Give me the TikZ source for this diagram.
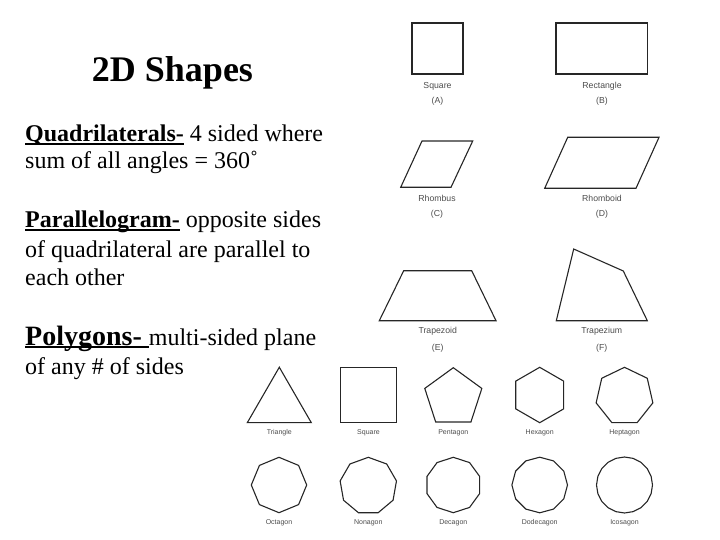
\documentclass[tikz,border=0pt]{standalone}
\usepackage{fontspec}
\setmainfont{Liberation Serif}
\newfontfamily\labelfont{Liberation Sans}
\usetikzlibrary{shapes.geometric}
\newsavebox\ulbox
\newcommand{\termul}[1]{\sbox\ulbox{#1}\rlap{\rule[-2.6pt]{\wd\ulbox}{1.4pt}}\usebox\ulbox}

\begin{document}
\begin{tikzpicture}[x=1pt,y=-1pt,
	body_text/.style={anchor=base west,inner sep=0pt,font=\fontsize{24}{24}\selectfont},
	shape_line/.style={draw=black!85,line width=1.1pt,line join=miter},
	poly_node/.style={regular polygon,draw=black!85,line width=1.1pt,inner sep=0pt},
	big_label/.style={anchor=base,inner sep=0pt,text=black!70,font=\labelfont\fontsize{8.7}{9}\selectfont},
	small_label/.style={anchor=base,inner sep=0pt,text=black!70,font=\labelfont\fontsize{7}{8}\selectfont}]

		\useasboundingbox (0,0) rectangle (720,540);

		% left column text
		\node[anchor=base,inner sep=0pt,font=\bfseries\fontsize{36}{36}\selectfont] (title) at (172.5,82) {2D Shapes};
		\node[body_text] (quad1) at (25,142) {\termul{\textbf{Quadrilaterals-}} 4 sided where};
		\node[body_text] (quad2) at (25,169) {sum of all angles = 360˚};
		\node[body_text] (para1) at (25,228) {\termul{\textbf{Parallelogram-}} opposite sides};
		\node[body_text] (para2) at (25,257) {of quadrilateral are parallel to};
		\node[body_text] (para3) at (25,285) {each other};
		\node[body_text] (poly1) at (25,345) {\termul{\bfseries\fontsize{28}{28}\selectfont Polygons- }multi-sided plane};
		\node[body_text] (poly2) at (25,374) {of any \# of sides};

		% quadrilaterals
		\draw[shape_line] (412,23) rectangle (463,74);
		\node[big_label] (sq) at (437.5,89) {Square};
		\node[big_label] (sqA) at (437.5,103.5) {(A)};

		\draw[shape_line] (556,23) rectangle (647.5,74);
		\node[big_label] (rect) at (602,89) {Rectangle};
		\node[big_label] (rectB) at (602,103.5) {(B)};

		\draw[shape_line] (422,141) -- (472.7,141) -- (451,187.3) -- (400.7,187.3) -- cycle;
		\node[big_label] (rhombus) at (437,201.3) {Rhombus};
		\node[big_label] (rhombusC) at (437,216.7) {(C)};

		\draw[shape_line] (567.7,137.3) -- (659,137.3) -- (636,188.3) -- (544.7,188.3) -- cycle;
		\node[big_label] (rhomboid) at (602,201.3) {Rhomboid};
		\node[big_label] (rhomboidD) at (602,216.7) {(D)};

		\draw[shape_line] (379.3,320.7) -- (403.7,270.7) -- (471.7,270.7) -- (496,320.7) -- cycle;
		\node[big_label] (trapezoid) at (437.7,333.3) {Trapezoid};
		\node[big_label] (trapezoidE) at (437.7,350) {(E)};

		\draw[shape_line] (556.3,320.7) -- (573.7,249) -- (623.3,271) -- (647.3,320.7) -- cycle;
		\node[big_label] (trapezium) at (601.7,333.3) {Trapezium};
		\node[big_label] (trapeziumF) at (601.7,350) {(F)};

		% regular polygons
		\node[poly_node,regular polygon sides=3,minimum size=73.9pt] (tri) at (279.3,404.2) {};
		\node[small_label] (tri_l) at (279.3,434) {Triangle};
		\node[poly_node,regular polygon sides=4,minimum size=78.6pt] (quad) at (368.5,395) {};
		\node[small_label] (quad_l) at (368.5,434) {Square};
		\node[poly_node,regular polygon sides=5,minimum size=60pt] (penta) at (453.3,397.7) {};
		\node[small_label] (penta_l) at (453.3,434) {Pentagon};
		\node[poly_node,regular polygon sides=6,minimum size=55.4pt,shape border rotate=30] (hexa) at (539.7,395) {};
		\node[small_label] (hexa_l) at (539.7,434) {Hexagon};
		\node[poly_node,regular polygon sides=7,minimum size=58.2pt] (hepta) at (624.5,396.4) {};
		\node[small_label] (hepta_l) at (624.5,434) {Heptagon};

		\node[poly_node,regular polygon sides=8,minimum size=55.4pt,shape border rotate=22.5] (octa) at (279,485) {};
		\node[small_label] (octa_l) at (279,524.3) {Octagon};
		\node[poly_node,regular polygon sides=9,minimum size=57.2pt] (nona) at (368.3,485.9) {};
		\node[small_label] (nona_l) at (368.3,524.3) {Nonagon};
		\node[poly_node,regular polygon sides=10,minimum size=55.4pt,shape border rotate=18] (deca) at (453.3,485) {};
		\node[small_label] (deca_l) at (453.3,524.3) {Decagon};
		\node[poly_node,regular polygon sides=12,minimum size=55.6pt,shape border rotate=15] (dodeca) at (539.7,485) {};
		\node[small_label] (dodeca_l) at (539.7,524.3) {Dodecagon};
		\node[poly_node,regular polygon sides=20,minimum size=56pt,shape border rotate=9] (icosa) at (624.5,485) {};
		\node[small_label] (icosa_l) at (624.5,524.3) {Icosagon};
		\end{tikzpicture}
\end{document}
